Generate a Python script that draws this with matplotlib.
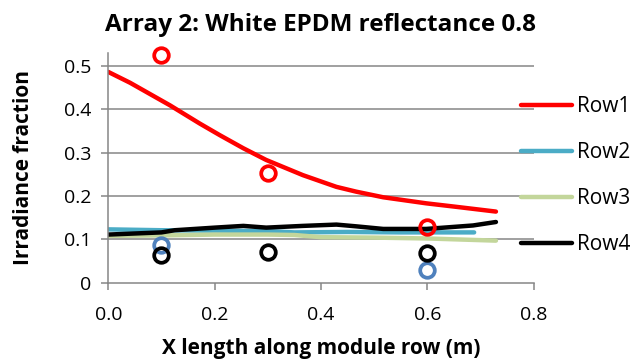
import numpy as np
import matplotlib.pyplot as plt

# Simulated irradiance along module row (smoothed lines)
row1_x = [0.0, 0.041, 0.116, 0.172, 0.210, 0.254, 0.297, 0.366, 0.429, 0.466, 0.517, 0.598, 0.654, 0.729]
row1_y = [0.486, 0.461, 0.409, 0.367, 0.340, 0.310, 0.283, 0.248, 0.221, 0.210, 0.197, 0.183, 0.175, 0.164]

row2_x = [0.0, 0.10, 0.20, 0.30, 0.35, 0.45, 0.55, 0.60, 0.688]
row2_y = [0.123, 0.121, 0.120, 0.119, 0.116, 0.117, 0.116, 0.116, 0.116]

row3_x = [0.0, 0.10, 0.20, 0.30, 0.35, 0.40, 0.50, 0.60, 0.729]
row3_y = [0.108, 0.109, 0.111, 0.111, 0.110, 0.105, 0.104, 0.102, 0.097]

row4_x = [0.0, 0.10, 0.125, 0.20, 0.254, 0.297, 0.366, 0.429, 0.466, 0.517, 0.598, 0.686, 0.729]
row4_y = [0.111, 0.116, 0.121, 0.127, 0.131, 0.127, 0.131, 0.134, 0.130, 0.124, 0.124, 0.132, 0.140]

# Measured points
meas_x_row1 = [0.1, 0.3, 0.6]
meas_y_row1 = [0.525, 0.252, 0.129]
meas_x_row2 = [0.1, 0.6]
meas_y_row2 = [0.088, 0.029]
meas_x_row4 = [0.1, 0.3, 0.6]
meas_y_row4 = [0.064, 0.070, 0.068]

plt.rcParams['font.family'] = ['Open Sans', 'DejaVu Sans']

fig = plt.figure(figsize=(6.43, 3.6), dpi=100)
ax = fig.add_axes([0.1684, 0.2147, 0.830 - 0.1684, 0.852 - 0.2147])

grid_c = '#868686'
for v in [0.1, 0.2, 0.3, 0.4, 0.5]:
    ax.axhline(v, color=grid_c, lw=1.1, zorder=0)

lw = 3.2
l1, = ax.plot(row1_x, row1_y, color='#FF0000', lw=lw, solid_capstyle='round', label='Row1')
l2, = ax.plot(row2_x, row2_y, color='#4BACC6', lw=lw, solid_capstyle='round', label='Row2')
l3, = ax.plot(row3_x, row3_y, color='#C3D69B', lw=lw, solid_capstyle='round', label='Row3')
l4, = ax.plot(row4_x, row4_y, color='#000000', lw=lw, solid_capstyle='round', label='Row4')

mk = dict(marker='o', ls='none', ms=10.5, mew=2.7, mfc='none', zorder=5, clip_on=False)
ax.plot(meas_x_row1, meas_y_row1, mec='#FF0000', **mk)
ax.plot(meas_x_row2, meas_y_row2, mec='#4F81BD', **mk)
ax.plot(meas_x_row4, meas_y_row4, mec='#000000', **mk)

ax.set_xlim(0, 0.8)
ax.set_ylim(0, 0.529)
ax.set_xticks([0, 0.2, 0.4, 0.6, 0.8])
ax.set_xticklabels(['0.0', '0.2', '0.4', '0.6', '0.8'])
ax.set_yticks([0, 0.1, 0.2, 0.3, 0.4, 0.5])
ax.set_yticklabels(['0', '0.1', '0.2', '0.3', '0.4', '0.5'])

for s in ['top', 'right']:
    ax.spines[s].set_visible(False)
for s in ['left', 'bottom']:
    ax.spines[s].set_color(grid_c)
    ax.spines[s].set_linewidth(1.1)
ax.tick_params(axis='both', colors=grid_c, width=1.1, length=5, labelsize=14, labelcolor='black')
ax.tick_params(axis='x', pad=12)
ax.tick_params(axis='y', pad=7)

ax.set_title('Array 2: White EPDM reflectance 0.8', fontsize=17.5, fontweight='bold', pad=16)
ax.set_xlabel('X length along module row (m)', fontsize=15, fontweight='bold', labelpad=10)
ax.set_ylabel('Irradiance fraction', fontsize=15, fontweight='bold', labelpad=22)

fig.legend(handles=[l1, l2, l3, l4], loc='center left', bbox_to_anchor=(0.798, 0.512),
           frameon=False, fontsize=15, handlelength=2.45, handletextpad=0.2, labelspacing=1.2,
           borderaxespad=0)

fig.savefig('out.png', dpi=100)
